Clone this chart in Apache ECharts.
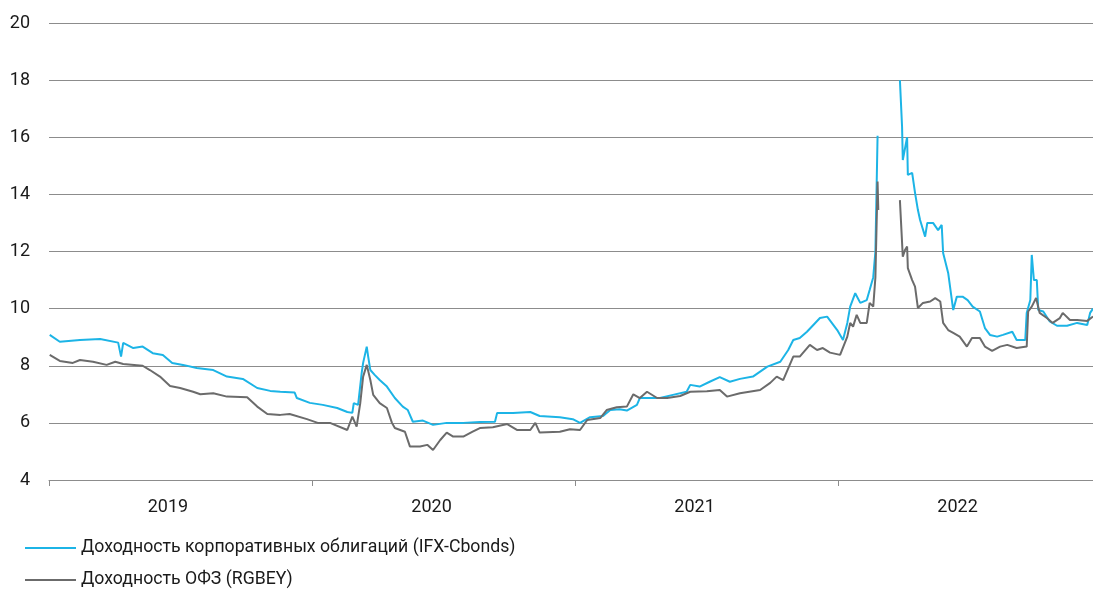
<!DOCTYPE html>
<html>
<head>
<meta charset="utf-8">
<script src="https://cdn.jsdelivr.net/npm/echarts@6/dist/echarts.min.js"></script>
<style>
  html, body { margin: 0; padding: 0; background: #fff; }
  #chart { width: 1093px; height: 592px; }
</style>
</head>
<body>
<div id="chart"></div>
<script>
'use strict';

var yearTicks = ['2019-01-01', '2020-01-01', '2021-01-01', '2022-01-01'];
var yearLabels = ['2019-06-15', '2020-06-15', '2021-06-15', '2022-06-15'];

var seriesNames = ['Доходность корпоративных облигаций (IFX-Cbonds)', 'Доходность ОФЗ (RGBEY)'];

// IFX-Cbonds
var corpDates = [
    '2019-01-02', '2019-01-16', '2019-02-13', '2019-03-13', '2019-04-07', '2019-04-11', '2019-04-14',
    '2019-04-28', '2019-05-11', '2019-05-25', '2019-06-08', '2019-06-21', '2019-07-06', '2019-07-25',
    '2019-08-17', '2019-09-05', '2019-09-27', '2019-10-17', '2019-11-04', '2019-11-18', '2019-12-08',
    '2019-12-11', '2019-12-29', '2020-01-16', '2020-02-05', '2020-02-19', '2020-02-26', '2020-02-28',
    '2020-03-05', '2020-03-10', '2020-03-12', '2020-03-17', '2020-03-19', '2020-03-22', '2020-03-28',
    '2020-04-04', '2020-04-14', '2020-04-25', '2020-05-06', '2020-05-13', '2020-05-20', '2020-06-03',
    '2020-06-17', '2020-07-06', '2020-07-29', '2020-08-21', '2020-09-11', '2020-09-14', '2020-10-06',
    '2020-10-30', '2020-11-12', '2020-12-10', '2020-12-28', '2021-01-07', '2021-01-21', '2021-02-08',
    '2021-02-18', '2021-03-03', '2021-03-13', '2021-03-27', '2021-03-31', '2021-04-28', '2021-05-16',
    '2021-06-04', '2021-06-09', '2021-06-22', '2021-07-06', '2021-07-20', '2021-08-03', '2021-08-17',
    '2021-09-04', '2021-09-24', '2021-10-12', '2021-10-23', '2021-10-30', '2021-11-08', '2021-11-18',
    '2021-12-06', '2021-12-16', '2021-12-30', '2022-01-07', '2022-01-13', '2022-01-17', '2022-01-24',
    '2022-01-31', '2022-02-09', '2022-02-13', '2022-02-18', '2022-02-21', '2022-02-24', '2022-03-01',
    '2022-03-27', '2022-03-30', '2022-03-31', '2022-04-06', '2022-04-07', '2022-04-13', '2022-04-17',
    '2022-04-21', '2022-04-24', '2022-05-01', '2022-05-04', '2022-05-12', '2022-05-19', '2022-05-24',
    '2022-05-26', '2022-06-02', '2022-06-09', '2022-06-14', '2022-06-22', '2022-06-29', '2022-07-06',
    '2022-07-16', '2022-07-23', '2022-07-30', '2022-08-09', '2022-08-17', '2022-08-30', '2022-09-05',
    '2022-09-17', '2022-09-19', '2022-09-24', '2022-09-26', '2022-09-29', '2022-10-03', '2022-10-05',
    '2022-10-12', '2022-10-21', '2022-10-31', '2022-11-14', '2022-11-28', '2022-12-12', '2022-12-16',
    '2022-12-20'
];
var corpYield = [
    9.08, 8.84, 8.90, 8.94, 8.81, 8.32, 8.80,
    8.62, 8.67, 8.44, 8.38, 8.10, 8.03, 7.92,
    7.85, 7.62, 7.54, 7.22, 7.12, 7.09, 7.06,
    6.87, 6.70, 6.63, 6.52, 6.38, 6.35, 6.69,
    6.63, 7.75, 8.10, 8.67, 8.32, 7.85, 7.68,
    7.50, 7.27, 6.87, 6.57, 6.45, 6.04, 6.08,
    5.93, 6.00, 6.00, 6.03, 6.04, 6.35, 6.35,
    6.38, 6.24, 6.20, 6.13, 6.00, 6.20, 6.24,
    6.45, 6.48, 6.43, 6.63, 6.87, 6.87, 6.98,
    7.09, 7.33, 7.27, 7.44, 7.60, 7.44, 7.54,
    7.62, 7.97, 8.14, 8.55, 8.90, 8.97, 9.19,
    9.67, 9.72, 9.25, 8.90, 9.50, 10.07, 10.54,
    10.20, 10.30, 10.65, 11.10, 12.00, 16.05, null,
    18.00, 16.37, 15.20, 16.00, 14.68, 14.75, 14.05,
    13.45, 13.10, 12.52, 13.00, 13.00, 12.75, 12.93,
    11.95, 11.25, 9.95, 10.42, 10.42, 10.30, 10.07,
    9.90, 9.32, 9.08, 9.02, 9.08, 9.19, 8.90,
    8.90, 9.85, 10.30, 11.88, 11.00, 11.00, 9.95,
    9.90, 9.55, 9.40, 9.40, 9.50, 9.43, 9.85,
    10.00
];

// RGBEY
var ofzDates = [
    '2019-01-02', '2019-01-16', '2019-02-03', '2019-02-13', '2019-03-03', '2019-03-22', '2019-04-03',
    '2019-04-14', '2019-05-03', '2019-05-11', '2019-05-21', '2019-06-04', '2019-06-18', '2019-07-02',
    '2019-07-20', '2019-07-30', '2019-08-17', '2019-09-05', '2019-10-03', '2019-10-17', '2019-10-31',
    '2019-11-18', '2019-12-01', '2019-12-25', '2020-01-09', '2020-01-26', '2020-02-19', '2020-02-26',
    '2020-03-03', '2020-03-08', '2020-03-12', '2020-03-17', '2020-03-22', '2020-03-26', '2020-04-04',
    '2020-04-14', '2020-04-21', '2020-04-25', '2020-05-09', '2020-05-16', '2020-05-30', '2020-06-09',
    '2020-06-17', '2020-06-27', '2020-07-06', '2020-07-15', '2020-07-29', '2020-08-11', '2020-08-21',
    '2020-09-08', '2020-09-28', '2020-10-12', '2020-10-30', '2020-11-06', '2020-11-12', '2020-12-10',
    '2020-12-24', '2021-01-07', '2021-01-17', '2021-02-04', '2021-02-13', '2021-02-27', '2021-03-13',
    '2021-03-22', '2021-03-31', '2021-04-10', '2021-04-24', '2021-05-08', '2021-05-26', '2021-06-09',
    '2021-07-02', '2021-07-20', '2021-07-30', '2021-08-17', '2021-09-14', '2021-09-28', '2021-10-07',
    '2021-10-16', '2021-10-30', '2021-11-08', '2021-11-22', '2021-12-02', '2021-12-10', '2021-12-20',
    '2022-01-03', '2022-01-13', '2022-01-17', '2022-01-21', '2022-01-26', '2022-01-31', '2022-02-09',
    '2022-02-13', '2022-02-18', '2022-02-21', '2022-02-24', '2022-02-25', '2022-03-01', '2022-03-27',
    '2022-03-31', '2022-04-03', '2022-04-06', '2022-04-07', '2022-04-13', '2022-04-17', '2022-04-21',
    '2022-04-28', '2022-05-08', '2022-05-15', '2022-05-22', '2022-05-26', '2022-06-02', '2022-06-09',
    '2022-06-18', '2022-06-28', '2022-07-05', '2022-07-16', '2022-07-23', '2022-08-02', '2022-08-13',
    '2022-08-23', '2022-09-05', '2022-09-19', '2022-09-21', '2022-09-26', '2022-10-02', '2022-10-07',
    '2022-10-17', '2022-10-25', '2022-11-04', '2022-11-08', '2022-11-18', '2022-11-28', '2022-12-12',
    '2022-12-20'
];
var ofzYield = [
    8.38, 8.17, 8.10, 8.20, 8.14, 8.03, 8.14,
    8.06, 8.02, 8.00, 7.85, 7.62, 7.29, 7.22,
    7.09, 7.00, 7.04, 6.92, 6.90, 6.57, 6.31,
    6.28, 6.31, 6.13, 6.00, 6.00, 5.75, 6.22,
    5.87, 6.69, 7.62, 8.03, 7.50, 6.98, 6.69,
    6.52, 6.00, 5.82, 5.69, 5.17, 5.17, 5.23,
    5.05, 5.40, 5.66, 5.52, 5.52, 5.69, 5.82,
    5.85, 5.96, 5.75, 5.75, 6.00, 5.66, 5.69,
    5.78, 5.75, 6.10, 6.17, 6.45, 6.55, 6.57,
    7.00, 6.87, 7.09, 6.87, 6.87, 6.94, 7.09,
    7.11, 7.15, 6.92, 7.04, 7.15, 7.40, 7.62,
    7.50, 8.32, 8.32, 8.73, 8.55, 8.62, 8.46,
    8.38, 9.02, 9.50, 9.37, 9.78, 9.50, 9.50,
    10.20, 10.07, 11.10, 14.45, 13.45, null, 13.80,
    11.82, 12.05, 12.17, 11.42, 11.00, 10.77, 10.02,
    10.20, 10.25, 10.37, 10.25, 9.50, 9.25, 9.15,
    9.02, 8.67, 8.97, 8.97, 8.67, 8.52, 8.67,
    8.73, 8.62, 8.67, 9.90, 10.07, 10.37, 9.85,
    9.67, 9.50, 9.67, 9.85, 9.60, 9.60, 9.57,
    9.72
];

function toStamp(s) {
    var p = s.split('-');
    return new Date(+p[0], +p[1] - 1, +p[2]).getTime();
}

function pairs(dates, vals) {
    return dates.map(function(d, i) {
        return [toStamp(d), vals[i]];
    });
}

var font = 'Roboto, "Noto Sans", sans-serif';
var gridColor = '#8c8c8c';
var textColor = '#1a1a1a';

function legendRow(name, top) {
    return {
        left: 20,
        top: top,
        icon: 'rect',
        itemWidth: 51,
        itemHeight: 2,
        textStyle: { fontFamily: font, fontSize: 17.7, color: textColor },
        data: [name]
    };
}

var myChart = echarts.init(document.getElementById('chart'));

var option = {
    animation: false,
    color: ['#1cb4e6', '#6b6b6b'],
    grid: { left: 49, right: 0, top: 23, bottom: 112 },
    // one legend per row, stacked under the axis
    legend: [
        legendRow(seriesNames[0], 534),
        legendRow(seriesNames[1], 566)
    ],
    // dates are kept as timestamps on a value axis so that ticks and labels can sit on custom values
    xAxis: {
        type: 'value',
        min: toStamp('2019-01-01'),
        max: toStamp('2022-12-20'),
        axisLine: { show: true, lineStyle: { color: gridColor, width: 1 } },
        axisTick: {
            show: true,
            length: 6,
            lineStyle: { color: gridColor },
            customValues: yearTicks.map(toStamp)
        },
        axisLabel: {
            customValues: yearLabels.map(toStamp),
            margin: 18,
            fontFamily: font,
            fontSize: 18,
            color: textColor,
            formatter: function(v) {
                return String(new Date(v).getFullYear());
            }
        },
        splitLine: { show: false }
    },
    yAxis: {
        type: 'value',
        min: 4,
        max: 20,
        interval: 2,
        axisLine: { show: false },
        axisTick: { show: false },
        axisLabel: { margin: 19, fontFamily: font, fontSize: 18, color: textColor },
        splitLine: { lineStyle: { color: gridColor, width: 1 } }
    },
    series: [
        {
            name: seriesNames[0],
            type: 'line',
            showSymbol: false,
            connectNulls: false,
            lineStyle: { width: 2 },
            data: pairs(corpDates, corpYield)
        },
        {
            name: seriesNames[1],
            type: 'line',
            showSymbol: false,
            connectNulls: false,
            lineStyle: { width: 2 },
            data: pairs(ofzDates, ofzYield)
        }
    ]
};

myChart.setOption(option);
</script>
</body>
</html>
